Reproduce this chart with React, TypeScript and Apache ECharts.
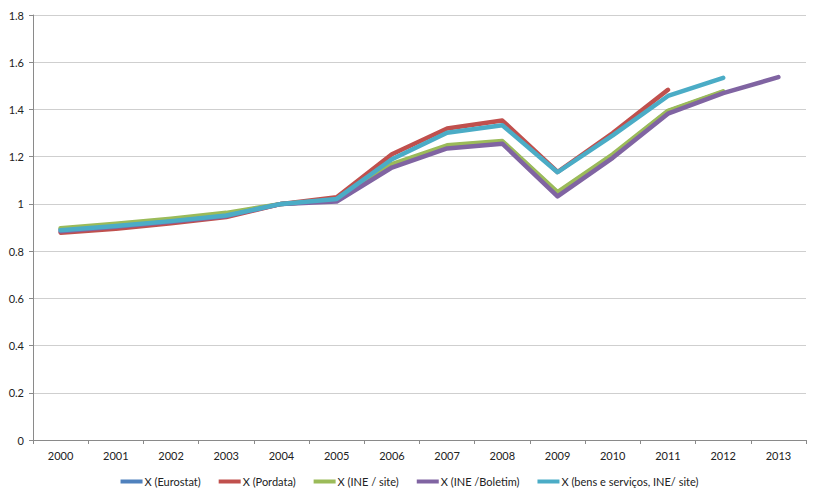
import React, { useEffect, useRef } from "react";
import * as echarts from "echarts";

const years = ["2000", "2001", "2002", "2003", "2004", "2005", "2006", "2007", "2008", "2009", "2010", "2011", "2012", "2013"];
const eurostat = [0.892, 0.912, 0.933, 0.957, 1.0, 1.018, 1.165, 1.245, 1.263, 1.047, 1.205, 1.392, 1.474, null];
const pordata = [0.878, 0.895, 0.918, 0.944, 1.0, 1.028, 1.21, 1.319, 1.353, 1.135, 1.3, 1.483, null, null];
const ineSite = [0.897, 0.916, 0.937, 0.962, 1.0, 1.016, 1.168, 1.248, 1.266, 1.05, 1.21, 1.394, 1.477, null];
const ineBoletim = [0.884, 0.903, 0.924, 0.948, 1.0, 1.01, 1.154, 1.235, 1.255, 1.032, 1.195, 1.382, 1.469, 1.537];
const bensServicos = [0.888, 0.906, 0.927, 0.951, 1.0, 1.021, 1.189, 1.301, 1.333, 1.134, 1.29, 1.457, 1.534, null];

const seriesNames = ["X (Eurostat)", "X (Pordata)", "X (INE / site)", "X (INE /Boletim)", "X (bens e serviços, INE/ site)"];
const seriesData = [eurostat, pordata, ineSite, ineBoletim, bensServicos];
const colors = ["#4F81BD", "#C0504D", "#9BBB59", "#8064A2", "#4BACC6"];

export default function App() {
  const ref = useRef<HTMLDivElement>(null);
  useEffect(() => {
    if (!ref.current) return;
    const chart = echarts.init(ref.current, undefined, { renderer: "svg" });
    const font = "Lato, 'Open Sans', sans-serif";
    chart.setOption({
      animation: false,
      backgroundColor: "#ffffff",
      color: colors,
      grid: { left: 33, right: 13, top: 15, bottom: 58, containLabel: false },
      legend: {
        bottom: 6,
        left: "center",
        icon: "rect",
        itemWidth: 22,
        itemHeight: 4,
        itemGap: 18,
        textStyle: { fontFamily: font, fontSize: 11, color: "#222", padding: [0, 0, 0, -3] },
        data: seriesNames,
      },
      xAxis: {
        type: "category",
        data: years,
        boundaryGap: true,
        axisLine: { lineStyle: { color: "#8a8a8a", width: 1 } },
        axisTick: { show: true, length: 4, inside: false, lineStyle: { color: "#8a8a8a" } },
        axisLabel: { fontFamily: font, fontSize: 11, color: "#222", margin: 10 },
        splitLine: { show: false },
      },
      yAxis: {
        type: "value",
        min: 0,
        max: 1.8,
        interval: 0.2,
        axisLine: { show: true, lineStyle: { color: "#8a8a8a", width: 1 } },
        axisTick: { show: true, length: 4, lineStyle: { color: "#8a8a8a" } },
        axisLabel: {
          fontFamily: font,
          fontSize: 11,
          color: "#222",
          margin: 9,
          formatter: (v: number) => String(Math.round(v * 10) / 10),
        },
        splitLine: { show: true, lineStyle: { color: "#cfcfcf", width: 1 } },
      },
      series: seriesNames.map((name, i) => ({
        name,
        type: "line",
        data: seriesData[i],
        symbol: "none",
        connectNulls: false,
        lineStyle: { width: 4.5, color: colors[i], cap: "round", join: "round" },
        itemStyle: { color: colors[i] },
      })),
    });
    return () => chart.dispose();
  }, []);
  return <div ref={ref} style={{ position: "fixed", left: 0, top: 0, width: 819, height: 498 }} />;
}
